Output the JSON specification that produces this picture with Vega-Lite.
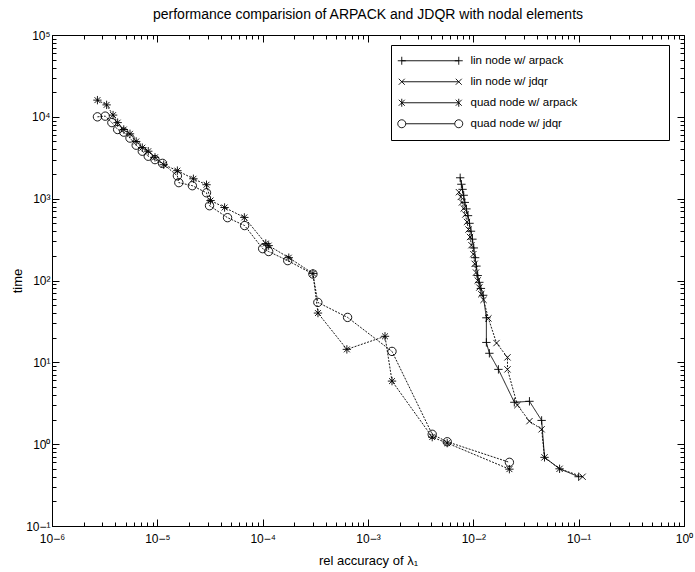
{
  "$schema": "https://vega.github.io/schema/vega-lite/v6.json",
  "autosize": {"type": "none"},
  "padding": {"left": 52, "top": 35, "right": 11, "bottom": 46},
  "width": 632,
  "height": 491,
  "background": "white",
  "title": {"text": "performance comparision of ARPACK and JDQR with nodal elements", "font": "Liberation Sans", "fontSize": 14, "fontWeight": "normal", "color": "black", "offset": 7},
  "config": {
    "view": {"stroke": "black", "strokeWidth": 1},
    "font": "Liberation Sans",
    "axis": {"domainColor": "black", "tickColor": "black", "labelColor": "black", "titleColor": "black", "labelFont": "Liberation Sans", "titleFont": "Liberation Sans", "titleFontWeight": "normal", "grid": false, "labelFlush": false, "labelOverlap": false}
  },
  "data": {"values": [
    {"s":"quad node w/ arpack","i":1,"x":2.7e-6,"y":16000},{"s":"quad node w/ arpack","i":2,"x":3.3e-6,"y":14000},{"s":"quad node w/ arpack","i":3,"x":3.8e-6,"y":10500},{"s":"quad node w/ arpack","i":4,"x":4.2e-6,"y":8500},{"s":"quad node w/ arpack","i":5,"x":4.8e-6,"y":7000},{"s":"quad node w/ arpack","i":6,"x":5.5e-6,"y":6200},{"s":"quad node w/ arpack","i":7,"x":6.3e-6,"y":5000},{"s":"quad node w/ arpack","i":8,"x":7.2e-6,"y":4200},{"s":"quad node w/ arpack","i":9,"x":8.2e-6,"y":3800},{"s":"quad node w/ arpack","i":10,"x":9.5e-6,"y":3200},{"s":"quad node w/ arpack","i":11,"x":1.15e-5,"y":2600},{"s":"quad node w/ arpack","i":12,"x":1.55e-5,"y":2200},{"s":"quad node w/ arpack","i":13,"x":2.2e-5,"y":1750},{"s":"quad node w/ arpack","i":14,"x":2.93e-5,"y":1480},{"s":"quad node w/ arpack","i":15,"x":3.2e-5,"y":950},{"s":"quad node w/ arpack","i":16,"x":4.35e-5,"y":780},{"s":"quad node w/ arpack","i":17,"x":6.7e-5,"y":590},{"s":"quad node w/ arpack","i":18,"x":1.07e-4,"y":283},{"s":"quad node w/ arpack","i":19,"x":1.14e-4,"y":267},{"s":"quad node w/ arpack","i":20,"x":1.77e-4,"y":190},{"s":"quad node w/ arpack","i":21,"x":3.0e-4,"y":122},{"s":"quad node w/ arpack","i":22,"x":3.35e-4,"y":40},{"s":"quad node w/ arpack","i":23,"x":6.3e-4,"y":14.4},{"s":"quad node w/ arpack","i":24,"x":1.45e-3,"y":20.8},{"s":"quad node w/ arpack","i":25,"x":1.69e-3,"y":5.9},{"s":"quad node w/ arpack","i":26,"x":4.07e-3,"y":1.22},{"s":"quad node w/ arpack","i":27,"x":5.65e-3,"y":1.03},{"s":"quad node w/ arpack","i":28,"x":0.022,"y":0.495},
    {"s":"quad node w/ jdqr","i":1,"x":2.7e-6,"y":10000},{"s":"quad node w/ jdqr","i":2,"x":3.2e-6,"y":10200},{"s":"quad node w/ jdqr","i":3,"x":3.7e-6,"y":8500},{"s":"quad node w/ jdqr","i":4,"x":4.2e-6,"y":7000},{"s":"quad node w/ jdqr","i":5,"x":4.8e-6,"y":6500},{"s":"quad node w/ jdqr","i":6,"x":5.5e-6,"y":5500},{"s":"quad node w/ jdqr","i":7,"x":6.3e-6,"y":4500},{"s":"quad node w/ jdqr","i":8,"x":7.2e-6,"y":3800},{"s":"quad node w/ jdqr","i":9,"x":8.2e-6,"y":3300},{"s":"quad node w/ jdqr","i":10,"x":9.5e-6,"y":3000},{"s":"quad node w/ jdqr","i":11,"x":1.12e-5,"y":2700},{"s":"quad node w/ jdqr","i":12,"x":1.55e-5,"y":1900},{"s":"quad node w/ jdqr","i":13,"x":1.6e-5,"y":1570},{"s":"quad node w/ jdqr","i":14,"x":2.15e-5,"y":1440},{"s":"quad node w/ jdqr","i":15,"x":2.93e-5,"y":1180},{"s":"quad node w/ jdqr","i":16,"x":3.13e-5,"y":820},{"s":"quad node w/ jdqr","i":17,"x":4.64e-5,"y":586},{"s":"quad node w/ jdqr","i":18,"x":6.74e-5,"y":469},{"s":"quad node w/ jdqr","i":19,"x":1.0e-4,"y":245},{"s":"quad node w/ jdqr","i":20,"x":1.14e-4,"y":226},{"s":"quad node w/ jdqr","i":21,"x":1.73e-4,"y":175},{"s":"quad node w/ jdqr","i":22,"x":3.0e-4,"y":120},{"s":"quad node w/ jdqr","i":23,"x":3.34e-4,"y":54},{"s":"quad node w/ jdqr","i":24,"x":6.4e-4,"y":35.4},{"s":"quad node w/ jdqr","i":25,"x":1.69e-3,"y":13.6},{"s":"quad node w/ jdqr","i":26,"x":4.07e-3,"y":1.32},{"s":"quad node w/ jdqr","i":27,"x":5.65e-3,"y":1.07},{"s":"quad node w/ jdqr","i":28,"x":0.022,"y":0.6},
    {"s":"lin node w/ arpack","i":1,"x":7.5e-3,"y":1800},{"s":"lin node w/ arpack","i":2,"x":7.7e-3,"y":1500},{"s":"lin node w/ arpack","i":3,"x":7.9e-3,"y":1300},{"s":"lin node w/ arpack","i":4,"x":8.1e-3,"y":1100},{"s":"lin node w/ arpack","i":5,"x":8.3e-3,"y":900},{"s":"lin node w/ arpack","i":6,"x":8.6e-3,"y":750},{"s":"lin node w/ arpack","i":7,"x":8.9e-3,"y":620},{"s":"lin node w/ arpack","i":8,"x":9.2e-3,"y":500},{"s":"lin node w/ arpack","i":9,"x":9.5e-3,"y":400},{"s":"lin node w/ arpack","i":10,"x":9.8e-3,"y":320},{"s":"lin node w/ arpack","i":11,"x":1.01e-2,"y":250},{"s":"lin node w/ arpack","i":12,"x":1.04e-2,"y":190},{"s":"lin node w/ arpack","i":13,"x":1.07e-2,"y":150},{"s":"lin node w/ arpack","i":14,"x":1.1e-2,"y":115},{"s":"lin node w/ arpack","i":15,"x":1.14e-2,"y":95},{"s":"lin node w/ arpack","i":16,"x":1.18e-2,"y":80},{"s":"lin node w/ arpack","i":17,"x":1.24e-2,"y":66},{"s":"lin node w/ arpack","i":18,"x":1.33e-2,"y":35},{"s":"lin node w/ arpack","i":19,"x":1.33e-2,"y":17.5},{"s":"lin node w/ arpack","i":20,"x":1.42e-2,"y":12.9},{"s":"lin node w/ arpack","i":21,"x":1.73e-2,"y":8.2},{"s":"lin node w/ arpack","i":22,"x":2.45e-2,"y":3.25},{"s":"lin node w/ arpack","i":23,"x":3.41e-2,"y":3.34},{"s":"lin node w/ arpack","i":24,"x":4.45e-2,"y":1.95},{"s":"lin node w/ arpack","i":25,"x":4.74e-2,"y":0.69},{"s":"lin node w/ arpack","i":26,"x":6.59e-2,"y":0.5},{"s":"lin node w/ arpack","i":27,"x":0.1,"y":0.4},
    {"s":"lin node w/ jdqr","i":1,"x":7.3e-3,"y":1200},{"s":"lin node w/ jdqr","i":2,"x":7.6e-3,"y":1050},{"s":"lin node w/ jdqr","i":3,"x":7.8e-3,"y":900},{"s":"lin node w/ jdqr","i":4,"x":8.1e-3,"y":760},{"s":"lin node w/ jdqr","i":5,"x":8.4e-3,"y":640},{"s":"lin node w/ jdqr","i":6,"x":8.7e-3,"y":520},{"s":"lin node w/ jdqr","i":7,"x":9.0e-3,"y":420},{"s":"lin node w/ jdqr","i":8,"x":9.3e-3,"y":340},{"s":"lin node w/ jdqr","i":9,"x":9.6e-3,"y":270},{"s":"lin node w/ jdqr","i":10,"x":1.0e-2,"y":210},{"s":"lin node w/ jdqr","i":11,"x":1.03e-2,"y":160},{"s":"lin node w/ jdqr","i":12,"x":1.06e-2,"y":125},{"s":"lin node w/ jdqr","i":13,"x":1.1e-2,"y":100},{"s":"lin node w/ jdqr","i":14,"x":1.14e-2,"y":82},{"s":"lin node w/ jdqr","i":15,"x":1.19e-2,"y":68},{"s":"lin node w/ jdqr","i":16,"x":1.25e-2,"y":58},{"s":"lin node w/ jdqr","i":17,"x":1.39e-2,"y":34.4},{"s":"lin node w/ jdqr","i":18,"x":1.66e-2,"y":17.2},{"s":"lin node w/ jdqr","i":19,"x":2.11e-2,"y":11.5},{"s":"lin node w/ jdqr","i":20,"x":2.11e-2,"y":8.2},{"s":"lin node w/ jdqr","i":21,"x":2.62e-2,"y":3.0},{"s":"lin node w/ jdqr","i":22,"x":3.41e-2,"y":1.91},{"s":"lin node w/ jdqr","i":23,"x":4.45e-2,"y":1.52},{"s":"lin node w/ jdqr","i":24,"x":4.74e-2,"y":0.69},{"s":"lin node w/ jdqr","i":25,"x":6.59e-2,"y":0.5},{"s":"lin node w/ jdqr","i":26,"x":0.109,"y":0.4}
  ]},
  "resolve": {"scale": {"shape": "independent"}, "legend": {"shape": "independent"}, "axis": {"x": "independent", "y": "independent"}},
  "layer": [
    {"mark": {"type": "line", "color": "black", "strokeWidth": 0.9},
     "encoding": {
       "x": {"field": "x", "type": "quantitative", "scale": {"type": "log", "domain": [1e-6, 1], "nice": false},
         "axis": {"orient": "bottom", "title": "rel accuracy of λ₁", "titleFontSize": 13, "titlePadding": 7, "labelFontSize": 12, "labelPadding": 14,
           "values": [1e-6,2e-6,3e-6,4e-6,5e-6,6e-6,7e-6,8e-6,9e-6,1e-5,2e-5,3e-5,4e-5,5e-5,6e-5,7e-5,8e-5,9e-5,1e-4,2e-4,3e-4,4e-4,5e-4,6e-4,7e-4,8e-4,9e-4,1e-3,2e-3,3e-3,4e-3,5e-3,6e-3,7e-3,8e-3,9e-3,0.01,0.02,0.03,0.04,0.05,0.06,0.07,0.08,0.09,0.1,0.2,0.3,0.4,0.5,0.6,0.7,0.8,0.9,1],
           "labelExpr": "abs(log(datum.value)/LN10 - round(log(datum.value)/LN10)) < 0.001 ? '10' + replace(replace(replace(replace(replace(replace(replace(replace(format(round(log(datum.value)/LN10),'d'),'-','⁻'),'0','⁰'),'1','¹'),'2','²'),'3','³'),'4','⁴'),'5','⁵'),'6','⁶') : ''",
           "tickSize": {"condition": {"test": "abs(log(datum.value)/LN10 - round(log(datum.value)/LN10)) < 0.001", "value": -7}, "value": -4}}},
       "y": {"field": "y", "type": "quantitative", "scale": {"type": "log", "domain": [0.1, 100000], "nice": false},
         "axis": {"orient": "left", "title": "time", "titleFontSize": 13, "titlePadding": 1, "labelFontSize": 12, "labelPadding": 9,
           "values": [0.1,0.2,0.3,0.4,0.5,0.6,0.7,0.8,0.9,1,2,3,4,5,6,7,8,9,10,20,30,40,50,60,70,80,90,100,200,300,400,500,600,700,800,900,1000,2000,3000,4000,5000,6000,7000,8000,9000,10000,20000,30000,40000,50000,60000,70000,80000,90000,100000],
           "labelExpr": "abs(log(datum.value)/LN10 - round(log(datum.value)/LN10)) < 0.001 ? '10' + replace(replace(replace(replace(replace(replace(replace(replace(format(round(log(datum.value)/LN10),'d'),'-','⁻'),'0','⁰'),'1','¹'),'2','²'),'3','³'),'4','⁴'),'5','⁵'),'6','⁶') : ''",
           "tickSize": {"condition": {"test": "abs(log(datum.value)/LN10 - round(log(datum.value)/LN10)) < 0.001", "value": -7}, "value": -4}}},
       "detail": {"field": "s"}, "order": {"field": "i", "type": "quantitative"},
       "strokeDash": {"condition": {"test": "datum.s == 'lin node w/ arpack'", "value": [1,0]}, "value": [2,1.3]}}},
    {"mark": {"type": "point", "filled": false, "color": "black", "strokeWidth": 0.9, "size": 70, "opacity": 1},
     "encoding": {
       "x": {"field": "x", "type": "quantitative", "scale": {"type": "log", "domain": [1e-6, 1], "nice": false},
         "axis": {"orient": "top", "title": null, "labels": false, "domain": false,
           "values": [1e-6,2e-6,3e-6,4e-6,5e-6,6e-6,7e-6,8e-6,9e-6,1e-5,2e-5,3e-5,4e-5,5e-5,6e-5,7e-5,8e-5,9e-5,1e-4,2e-4,3e-4,4e-4,5e-4,6e-4,7e-4,8e-4,9e-4,1e-3,2e-3,3e-3,4e-3,5e-3,6e-3,7e-3,8e-3,9e-3,0.01,0.02,0.03,0.04,0.05,0.06,0.07,0.08,0.09,0.1,0.2,0.3,0.4,0.5,0.6,0.7,0.8,0.9,1],
           "tickSize": {"condition": {"test": "abs(log(datum.value)/LN10 - round(log(datum.value)/LN10)) < 0.001", "value": -7}, "value": -4}}},
       "y": {"field": "y", "type": "quantitative", "scale": {"type": "log", "domain": [0.1, 100000], "nice": false},
         "axis": {"orient": "right", "title": null, "labels": false, "domain": false,
           "values": [0.1,0.2,0.3,0.4,0.5,0.6,0.7,0.8,0.9,1,2,3,4,5,6,7,8,9,10,20,30,40,50,60,70,80,90,100,200,300,400,500,600,700,800,900,1000,2000,3000,4000,5000,6000,7000,8000,9000,10000,20000,30000,40000,50000,60000,70000,80000,90000,100000],
           "tickSize": {"condition": {"test": "abs(log(datum.value)/LN10 - round(log(datum.value)/LN10)) < 0.001", "value": -7}, "value": -4}}},
       "shape": {"field": "s", "type": "nominal", "legend": null,
         "scale": {"domain": ["lin node w/ arpack","lin node w/ jdqr","quad node w/ arpack","quad node w/ jdqr"],
           "range": ["M-1,0L1,0M0,-1L0,1", "M-0.75,-0.75L0.75,0.75M-0.75,0.75L0.75,-0.75", "M-1,0L1,0M0,-1L0,1M-0.7,-0.7L0.7,0.7M-0.7,0.7L0.7,-0.7", "circle"]}}}},
    {"mark": {"type": "point", "filled": false, "color": "black", "strokeWidth": 0.9, "size": 100, "opacity": 0},
     "encoding": {
       "x": {"field": "x", "type": "quantitative", "scale": {"type": "log", "domain": [1e-6, 1], "nice": false}, "axis": null},
       "y": {"field": "y", "type": "quantitative", "scale": {"type": "log", "domain": [0.1, 100000], "nice": false}, "axis": null},
       "shape": {"field": "s", "type": "nominal", "title": " ",
         "scale": {"domain": ["lin node w/ arpack","lin node w/ jdqr","quad node w/ arpack","quad node w/ jdqr"],
           "range": [
             "M-1,0L10.4,0M-1,-0.8L-1,0.8M10.4,-0.8L10.4,0.8M-1.8,0L-0.2,0M9.6,0L11.2,0",
             "M-1,0L10.4,0M-1.6,-0.6L-0.4,0.6M-1.6,0.6L-0.4,-0.6M9.8,-0.6L11,0.6M9.8,0.6L11,-0.6",
             "M-1,0L10.4,0M-1,-0.8L-1,0.8M10.4,-0.8L10.4,0.8M-1.6,-0.6L-0.4,0.6M-1.6,0.6L-0.4,-0.6M9.8,-0.6L11,0.6M9.8,0.6L11,-0.6",
             "M-0.2,0L9.6,0M-0.2,0A0.8,0.8,0,1,1,-1.8,0A0.8,0.8,0,1,1,-0.2,0M11.2,0A0.8,0.8,0,1,1,9.6,0A0.8,0.8,0,1,1,11.2,0"]},
         "legend": {"orient": "none", "legendX": 339, "legendY": 10, "strokeColor": "black", "fillColor": "white", "padding": 10,
           "labelFont": "Liberation Sans", "labelFontSize": 11.5, "labelColor": "black", "labelOffset": 58, "rowPadding": 8, "labelLimit": 0,
           "titleOrient": "right", "titlePadding": 82, "titleColor": "transparent", "titleFontSize": 8,
           "symbolSize": 100, "symbolStrokeColor": "black", "symbolStrokeWidth": 0.9, "symbolFillColor": "transparent", "symbolOpacity": 1}},
       "strokeDash": {"field": "s", "type": "nominal", "title": " ",
         "scale": {"domain": ["lin node w/ arpack","lin node w/ jdqr","quad node w/ arpack","quad node w/ jdqr"], "range": [[1,0],[1.5,1],[1.5,1],[1.5,1]]}}}}
  ]
}
